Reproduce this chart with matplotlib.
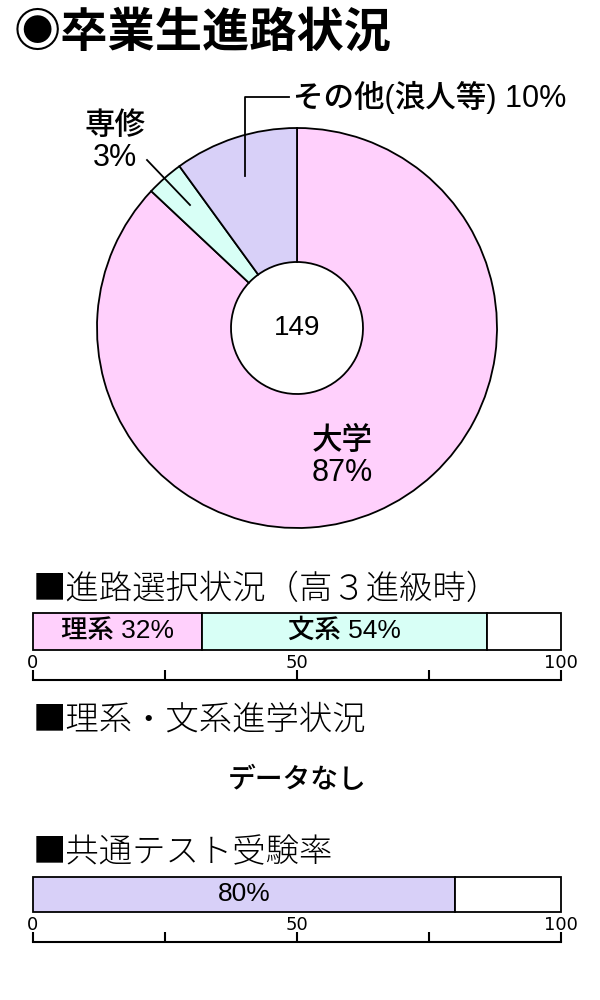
import matplotlib.pyplot as plt

plt.rcParams['font.family'] = ['Liberation Sans', 'Noto Sans CJK JP', 'DejaVu Sans']
JP = ['Noto Sans CJK JP', 'DejaVu Sans']

# 卒業生進路状況
pie_labels = ['大学\n87%', '専修\n3%', 'その他(浪人等) 10%']
pie_shares = [87, 3, 10]
pie_colors = ['#FFD0FC', '#D8FFF6', '#D8D0F8']
total = 149

# 進路選択状況（高３進級時）
course_texts = ['理系 32%', '文系 54%', '']
course_shares = [32, 54, 14]
course_colors = ['#FFD0FC', '#D8FFF6', 'white']

# 共通テスト受験率
exam_texts = ['80%', '']
exam_shares = [80, 20]
exam_colors = ['#D8D0F8', 'white']

scale_ticks = [0, 25, 50, 75, 100]
scale_labels = ['0', '', '50', '', '100']

W, H = 600, 1000
fig = plt.figure(figsize=(6, 10), dpi=100)


def px_axes(x0, y0, x1, y1):
    return fig.add_axes([x0 / W, 1 - y1 / H, (x1 - x0) / W, (y1 - y0) / H])


# ドーナツグラフ
pa = px_axes(93, 124, 501, 532)
pa.pie(pie_shares, colors=pie_colors, startangle=90, counterclock=False,
       radius=1, wedgeprops=dict(width=0.67, edgecolor='black', linewidth=1.3))
pa.set_xlim(-1.02, 1.02)
pa.set_ylim(-1.02, 1.02)
pa.set_aspect('equal')
pa.text(0, 0, str(total), ha='center', va='center', fontsize=20)


def stacked_bar(y0, y1, values, colors, texts):
    ax = px_axes(33, y0, 561, y1)
    left = 0
    for v, c, t in zip(values, colors, texts):
        ax.barh(0, v, left=left, height=1, color=c, edgecolor='black',
                linewidth=1.3, clip_on=False)
        if t:
            ax.text(left + v / 2, 0.02, t, ha='center', va='center',
                    fontsize=19, fontweight='medium')
        left += v
    ax.set_xlim(0, 100)
    ax.set_ylim(-0.5, 0.5)
    ax.axis('off')


def scale(y_base):
    ax = px_axes(33, y_base - 7, 561, y_base)
    ax.patch.set_alpha(0)
    ax.set_xlim(0, 100)
    ax.set_yticks([])
    for s in ['top', 'left', 'right']:
        ax.spines[s].set_visible(False)
    ax.spines['bottom'].set_linewidth(1.5)
    ax.set_xticks(scale_ticks)
    ax.set_xticklabels(scale_labels, family=['Liberation Sans Narrow', 'DejaVu Sans'])
    ax.tick_params(axis='x', direction='in', length=7, width=1.5,
                   labeltop=True, labelbottom=False, pad=1, labelsize=13)


stacked_bar(613, 650, course_shares, course_colors, course_texts)
scale(680)
stacked_bar(877, 912, exam_shares, exam_colors, exam_texts)
scale(942)

# 文字と引き出し線
ov = fig.add_axes([0, 0, 1, 1])
ov.set_xlim(0, W)
ov.set_ylim(H, 0)
ov.axis('off')

ov.text(14, 33, '◉卒業生進路状況', fontsize=34, fontweight='bold', va='center',
        family=JP)

ov.text(342, 457, pie_labels[0], ha='center', va='center', fontsize=22,
        fontweight='medium', linespacing=1.05)
ov.text(115, 142, pie_labels[1], ha='center', va='center', fontsize=22,
        fontweight='medium', linespacing=1.05)
ov.text(293, 97, pie_labels[2], ha='left', va='center', fontsize=22,
        fontweight='medium')
ov.plot([289, 245, 245], [97, 97, 176], color='black', lw=1.3)
ov.plot([147, 190], [160, 205], color='black', lw=1.3)

ov.text(33, 590, '■進路選択状況（高３進級時）', fontsize=24, fontweight='light',
        va='center', family=JP)
ov.text(33, 720, '■理系・文系進学状況', fontsize=24, fontweight='light',
        va='center', family=JP)
ov.text(297, 780, 'データなし', ha='center', va='center', fontsize=20,
        fontweight='medium', family=JP)
ov.text(33, 853, '■共通テスト受験率', fontsize=24, fontweight='light',
        va='center', family=JP)

fig.savefig('out.png', dpi=100)
